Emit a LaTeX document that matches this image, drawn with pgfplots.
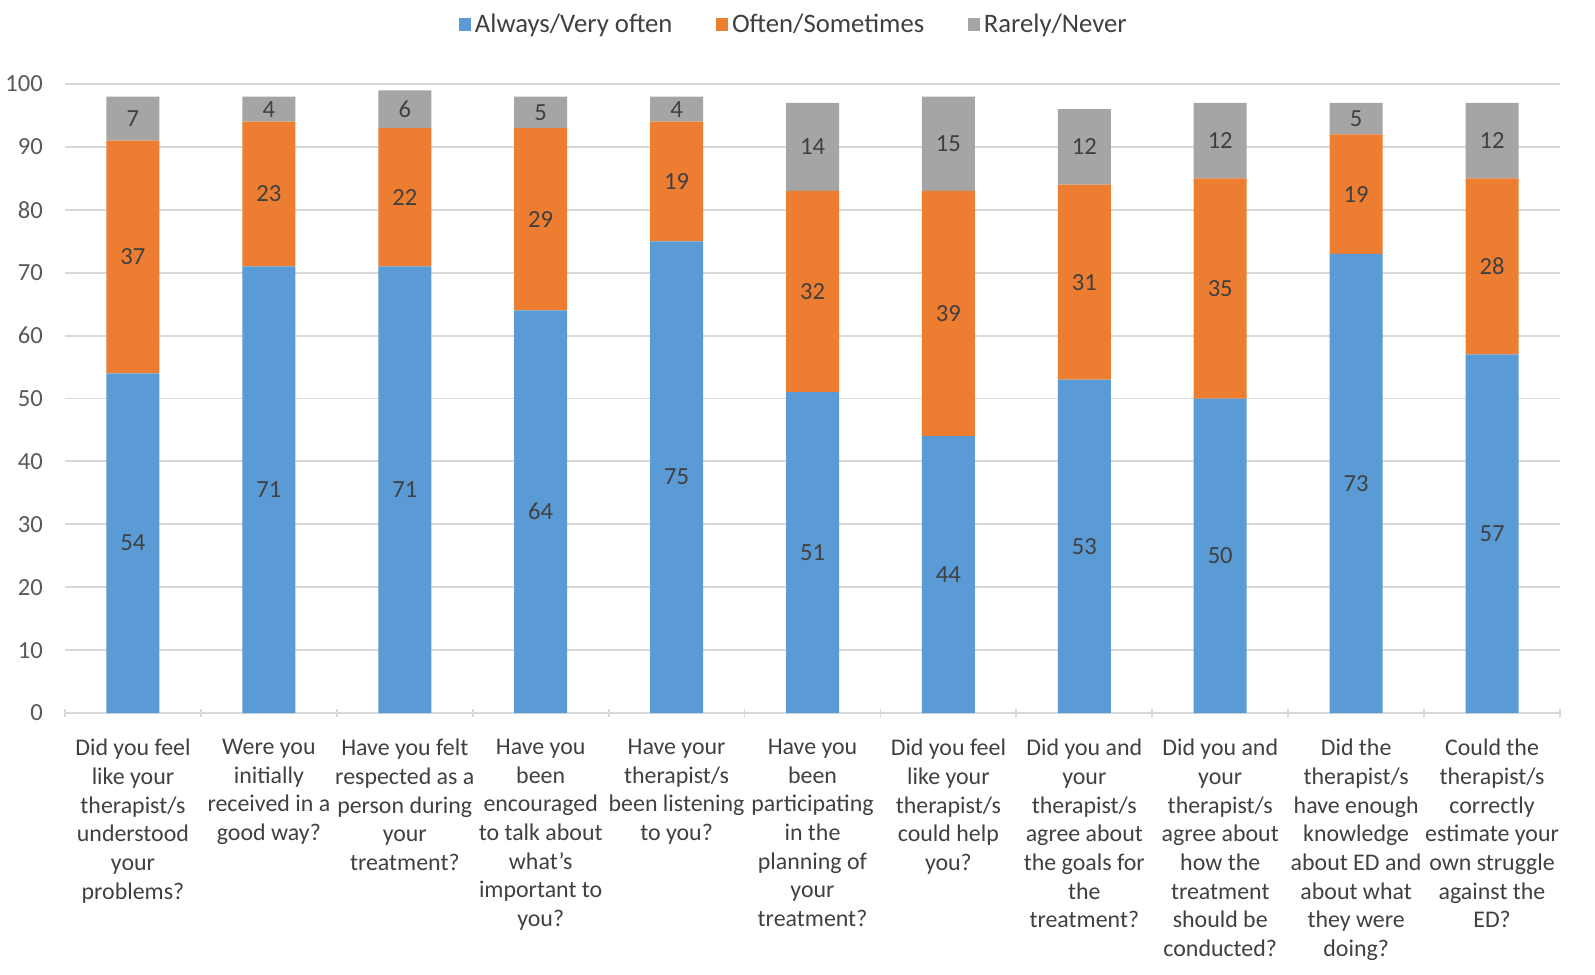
\documentclass[border=0pt]{standalone}
\usepackage{fontspec}
\setmainfont{Carlito}
\usepackage{pgfplots}
\usepackage{pgfplotstable}
\pgfplotsset{compat=1.18}

\definecolor{cblue}{HTML}{5B9BD5}
\definecolor{corange}{HTML}{ED7D31}
\definecolor{cgray}{HTML}{A5A5A5}
\definecolor{gridgray}{HTML}{D9D9D9}
\definecolor{txtgray}{HTML}{595959}
\definecolor{lblgray}{HTML}{404040}

% always/very often, often/sometimes, rarely/never
\pgfplotstableread{
x a  b  c
0 54 37 7
1 71 23 4
2 71 22 6
3 64 29 5
4 75 19 4
5 51 32 14
6 44 39 15
7 53 31 12
8 50 35 12
9 73 19 5
10 57 28 12
}\answers

\begin{document}
\begin{tikzpicture}
\begin{axis}[
    scale only axis,
    width=29.9cm, height=12.58cm,
    ybar stacked,
    bar width=1.06cm,
    xmin=-0.5, xmax=10.5,
    ymin=0, ymax=100,
    ytick={0,10,...,100},
    xtick=data,
    xticklabels={
        {Did you feel\\like your\\therapist/s\\understood\\your\\problems?},
        {Were you\\initially\\received in a\\good way?},
        {Have you felt\\respected as a\\person during\\your\\treatment?},
        {Have you\\been\\encouraged\\to talk about\\what's\\important to\\you?},
        {Have your\\therapist/s\\been listening\\to you?},
        {Have you\\been\\participating\\in the\\planning of\\your\\treatment?},
        {Did you feel\\like your\\therapist/s\\could help\\you?},
        {Did you and\\your\\therapist/s\\agree about\\the goals for\\the\\treatment?},
        {Did you and\\your\\therapist/s\\agree about\\how the\\treatment\\should be\\conducted?},
        {Did the\\therapist/s\\have enough\\knowledge\\about ED and\\about what\\they were\\doing?},
        {Could the\\therapist/s\\correctly\\estimate your\\own struggle\\against the\\ED?}},
    minor xtick={-0.5,0.5,...,10.5},
    major tick length=0pt,
    minor tick length=0.16cm,
    tick align=outside,
    minor x tick style={draw=gridgray, line width=1pt},
    axis x line=bottom, axis y line=left,
    x axis line style={draw=gridgray, line width=1.1pt, -},
    y axis line style={draw=none},
    ymajorgrids,
    grid style={draw=gridgray, line width=1.1pt},
    /pgf/number format/assume math mode=true,
    yticklabel style={font=\fontsize{14}{16}\selectfont, text=txtgray, xshift=-0.32cm},
    xticklabel style={align=center, font=\fontsize{13.6}{16.3}\selectfont, text=lblgray, yshift=-0.4cm},
    clip=false,
    point meta=explicit,
    nodes near coords,
    every node near coord/.append style={anchor=center, font=\fontsize{14}{16}\selectfont,
        text=lblgray},
    legend columns=3,
    legend style={draw=none, at={(0.488,1.095)}, anchor=center,
        font=\fontsize{15.2}{17}\selectfont, text=lblgray,
        /tikz/every even column/.append style={column sep=0.8cm}},
    legend image code/.code={\fill[#1, draw=none] (0cm,-0.13cm) rectangle (0.25cm,0.13cm);},
]
\addplot[fill=cblue, draw=none] table[x=x, y=a, meta=a] {\answers};
\addplot[fill=corange, draw=none] table[x=x, y=b, meta=b] {\answers};
\addplot[fill=cgray, draw=none] table[x=x, y=c, meta=c] {\answers};
\legend{Always/Very often, Often/Sometimes, Rarely/Never}
\end{axis}
\pgfresetboundingbox
\path ([shift={(-1.3cm,-5.22cm)}]current axis.south west)
    rectangle ([shift={(0.7cm,1.68cm)}]current axis.north east);
\end{tikzpicture}
\end{document}
